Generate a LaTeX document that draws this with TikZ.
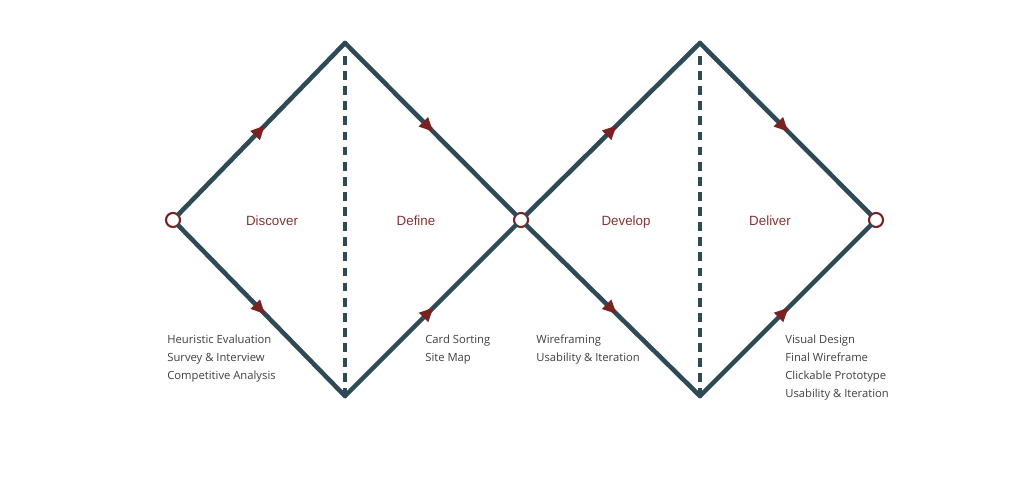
\documentclass[tikz,border=0pt]{standalone}
\usepackage{fontspec}
\setmainfont{Open Sans}
\newfontfamily\headfont{Liberation Sans}
\usetikzlibrary{arrows.meta,decorations.markings}
\definecolor{slateLine}{HTML}{2F4A57}
\definecolor{phaseRed}{HTML}{7A2222}
\definecolor{labelRed}{HTML}{843434}
\definecolor{listGray}{HTML}{404040}
\tikzset{
  edge/.style={line width=2.6pt, slateLine, line cap=round, line join=miter},
  midarrow/.style={postaction={decorate}, decoration={markings,
    mark=at position 0.52 with {\arrow{Triangle[length=8pt,width=7pt,fill=phaseRed,color=phaseRed]}}}},
  divider/.style={line width=2.2pt, slateLine, dash pattern=on 5pt off 3.6pt},
  joint/.style={circle, draw=phaseRed, fill=white, line width=1.2pt,
    minimum size=8pt, inner sep=0pt},
  phase/.style={font=\headfont\fontsize{7.6}{9}\selectfont, text=labelRed, anchor=base},
  tasks/.style={font=\fontsize{6.4}{10.2}\selectfont, text=listGray,
    align=left, anchor=north west, inner sep=0pt}
}
\begin{document}
\begin{tikzpicture}[x=0.02cm,y=-0.02cm]
  \useasboundingbox[fill=white] (0,0) rectangle (1024,479);
  % vertices
  \coordinate (topA) at (345,43);
  \coordinate (botA) at (345,396);
  \coordinate (topB) at (700,43);
  \coordinate (botB) at (700,396);
  % dividers
  \draw[divider] (345,56) -- (botA);
  \draw[divider] (700,56) -- (botB);
  % joints
  \node[joint] (start) at (173,220) {};
  \node[joint] (mid) at (521,220) {};
  \node[joint] (finish) at (876,220) {};
  % first diamond
  \draw[edge,midarrow] (start) -- (topA);
  \draw[edge,midarrow] (start) -- (botA);
  \draw[edge,midarrow] (topA) -- (mid);
  \draw[edge,midarrow] (botA) -- (mid);
  % second diamond
  \draw[edge,midarrow] (mid) -- (topB);
  \draw[edge,midarrow] (mid) -- (botB);
  \draw[edge,midarrow] (topB) -- (finish);
  \draw[edge,midarrow] (botB) -- (finish);
  % phase names
  \node[phase] (discover) at (272,226) {Discover};
  \node[phase] (define) at (416,226) {Define};
  \node[phase] (develop) at (626,226) {Develop};
  \node[phase] (deliver) at (770,226) {Deliver};
  % task lists
  \node[tasks] (discoverTasks) at (167,335) {Heuristic Evaluation\\Survey \& Interview\\Competitive Analysis};
  \node[tasks] (defineTasks) at (425,335) {Card Sorting\\Site Map};
  \node[tasks] (developTasks) at (536,335) {Wireframing\\Usability \& Iteration};
  \node[tasks] (deliverTasks) at (785,335) {Visual Design\\Final Wireframe\\Clickable Prototype\\Usability \& Iteration};
\end{tikzpicture}
\end{document}
